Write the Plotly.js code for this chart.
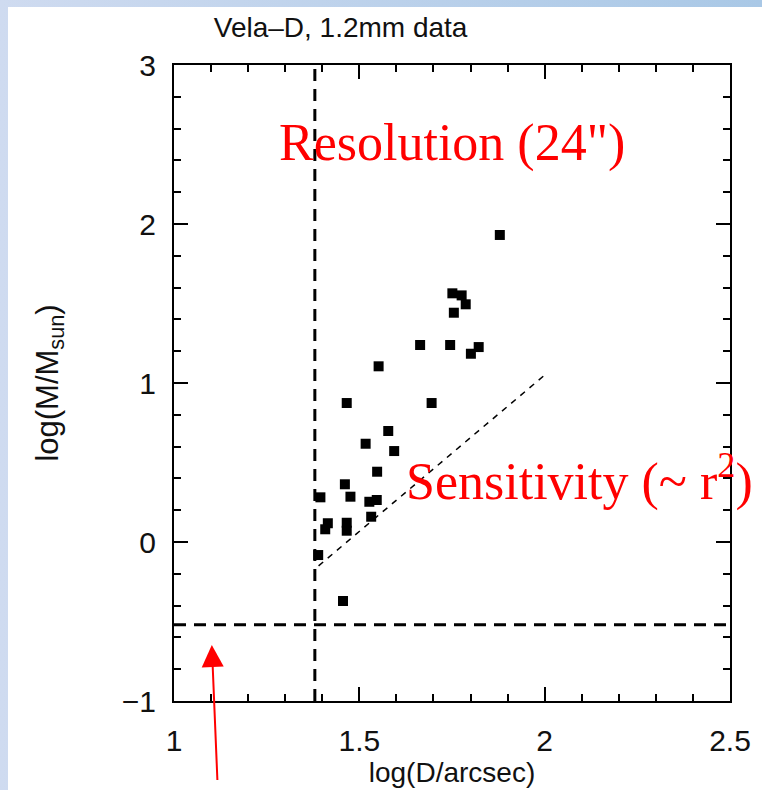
<!DOCTYPE html>
<html>
<head>
<meta charset="utf-8">
<script src="https://cdn.plot.ly/plotly-3.0.1.min.js"></script>
<style>
  html, body { margin:0; padding:0; }
  body { width:762px; height:790px; position:relative; overflow:hidden;
         background: linear-gradient(to right, #cfdbf0, #a9c8e6); }
  #white { position:absolute; left:8px; top:7px; width:754px; height:783px; background:#ffffff; }
  #chart { position:absolute; left:0; top:0; width:762px; height:790px; }
</style>
</head>
<body>
<div id="white"></div>
<div id="chart"></div>
<script>
// Clump data: log(D/arcsec) vs log(M/Msun)
const logD = [1.879, 1.751, 1.776, 1.787, 1.755, 1.664, 1.745, 1.822, 1.801, 1.552,
              1.466, 1.695, 1.578, 1.517, 1.594, 1.548, 1.461, 1.476, 1.395, 1.547,
              1.527, 1.532, 1.415, 1.408, 1.466, 1.466, 1.389, 1.456];
const logM = [1.931, 1.564, 1.551, 1.495, 1.442, 1.239, 1.239, 1.226, 1.184, 1.105,
              0.874, 0.874, 0.698, 0.618, 0.572, 0.442, 0.363, 0.285, 0.281, 0.264,
              0.253, 0.159, 0.118, 0.080, 0.121, 0.071, -0.082, -0.371];

// Resolution limit (24" beam)
const resX = [1.38, 1.38];
const resY = [-1, 3];
// Mass completeness limit
const limX = [1, 2.5];
const limY = [-0.52, -0.52];
// Sensitivity line (~ r^2)
const sensX = [1.39, 2.0];
const sensY = [-0.15, 1.05];

// Tick labels
const xTickVals = [1, 1.5, 2, 2.5];
const xTickText = ['1', '1.5', '2', '2.5'];
const yTickVals = [-1, 0, 1, 2, 3];
const yTickText = ['\u22121', '0', '1', '2', '3'];

// Arrow target
const arrowX = 1.102;
const arrowY = -0.648;

const traces = [
  { x: resX, y: resY, mode: 'lines', line: { color: '#000', width: 3, dash: '12px,8px' }, hoverinfo: 'skip' },
  { x: limX, y: limY, mode: 'lines', line: { color: '#000', width: 3, dash: '12px,8px' }, hoverinfo: 'skip' },
  { x: sensX, y: sensY, mode: 'lines', line: { color: '#000', width: 1.5, dash: '6px,6px' }, hoverinfo: 'skip' },
  { x: logD, y: logM, mode: 'markers', marker: { symbol: 'square', size: 10, color: '#000' } }
];

const tickFont = { family: 'Liberation Sans, Arial, sans-serif', size: 30, color: '#111' };
const titleFont = { family: 'Liberation Sans, Arial, sans-serif', size: 28, color: '#111' };

const layout = {
  width: 762, height: 790,
  margin: { l: 174, r: 32, t: 65, b: 89, pad: 0 },
  paper_bgcolor: 'rgba(0,0,0,0)',
  plot_bgcolor: '#ffffff',
  showlegend: false,
  title: {
    text: 'Vela\u2013D, 1.2mm data',
    font: { family: 'Liberation Sans, Arial, sans-serif', size: 28, color: '#111' },
    xref: 'container', x: 0.447, xanchor: 'center',
    yref: 'container', y: 1 - 27 / 790, yanchor: 'middle'
  },
  xaxis: {
    range: [1, 2.5], tickvals: xTickVals, ticktext: xTickText,
    ticks: 'inside', ticklen: 14, tickwidth: 2, tickcolor: '#000',
    minor: { dtick: 0.1, tick0: 1, ticks: 'inside', ticklen: 7, tickwidth: 2, tickcolor: '#000' },
    showline: true, linewidth: 2, linecolor: '#000', mirror: 'ticks',
    showgrid: false, zeroline: false,
    tickfont: tickFont, ticklabelstandoff: 12,
    title: { text: 'log(D/arcsec)', font: titleFont, standoff: 0 }
  },
  yaxis: {
    range: [-1, 3], tickvals: yTickVals, ticktext: yTickText,
    ticks: 'inside', ticklen: 14, tickwidth: 2, tickcolor: '#000',
    minor: { dtick: 0.2, tick0: -1, ticks: 'inside', ticklen: 7, tickwidth: 2, tickcolor: '#000' },
    showline: true, linewidth: 2, linecolor: '#000', mirror: 'ticks',
    showgrid: false, zeroline: false,
    tickfont: tickFont, ticklabelstandoff: 10,
    title: { text: 'log(M/M<sub>sun</sub>)', font: { family: 'Liberation Sans, Arial, sans-serif', size: 31, color: '#111' }, standoff: 54 }
  },
  annotations: [
    { x: 1.749, y: 2.507, xref: 'x', yref: 'y', text: 'Resolution (24")', showarrow: false,
      font: { family: 'Liberation Serif, Times New Roman, serif', size: 52, color: '#ff0000' },
      xanchor: 'center', yanchor: 'middle' },
    { x: 2.095, y: 0.400, xref: 'x', yref: 'y', text: 'Sensitivity (~ r<sup>2</sup>)', showarrow: false,
      font: { family: 'Liberation Serif, Times New Roman, serif', size: 52, color: '#ff0000' },
      xanchor: 'center', yanchor: 'middle' },
    { x: arrowX, y: arrowY, xref: 'x', yref: 'y', text: ' ', showarrow: true,
      ax: 6, ay: 160, arrowcolor: '#ff0000', arrowwidth: 2, arrowhead: 2, arrowsize: 2.2 }
  ]
};

Plotly.newPlot('chart', traces, layout, { displayModeBar: false, staticPlot: true });
</script>
</body>
</html>
